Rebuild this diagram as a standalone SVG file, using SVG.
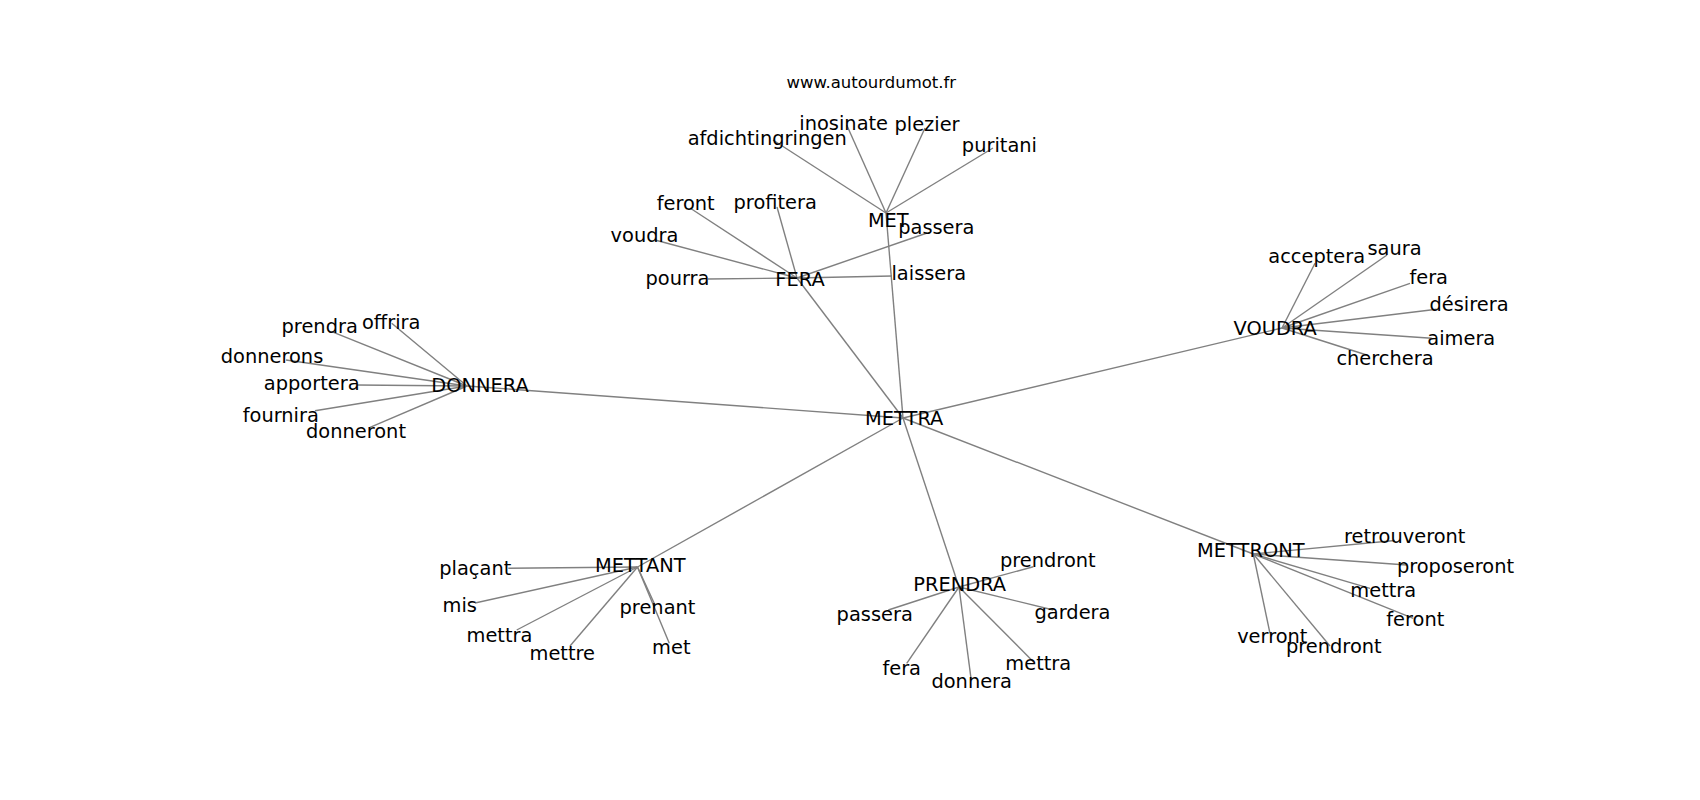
<svg xmlns="http://www.w3.org/2000/svg" width="1700" height="800" viewBox="0 0 1700 800">
<style>
.e{stroke:#808080;stroke-width:1.4;fill:none}
.l{font-family:"DejaVu Sans",sans-serif;font-size:19.4px;fill:#000;text-anchor:middle}
.t{font-family:"DejaVu Sans",sans-serif;font-size:16.5px;fill:#000;text-anchor:middle}
</style>
<rect width="1700" height="800" fill="#fff"/>
<g id="connectors">
<line class="e" x1="903" y1="418" x2="797" y2="278"/>
<line class="e" x1="903" y1="418" x2="886" y2="213"/>
<line class="e" x1="903" y1="418" x2="467" y2="386"/>
<line class="e" x1="903" y1="418" x2="1282" y2="328"/>
<line class="e" x1="903" y1="418" x2="637.5" y2="567"/>
<line class="e" x1="903" y1="418" x2="959" y2="587"/>
<line class="e" x1="903" y1="418" x2="1253.3" y2="554"/>
<line class="e" x1="886" y1="213" x2="773" y2="140"/>
<line class="e" x1="886" y1="213" x2="846.7" y2="125"/>
<line class="e" x1="886" y1="213" x2="925" y2="128"/>
<line class="e" x1="886" y1="213" x2="993" y2="148"/>
<line class="e" x1="797" y1="278" x2="927" y2="233"/>
<line class="e" x1="797" y1="278" x2="892" y2="276"/>
<line class="e" x1="797" y1="278" x2="690" y2="208"/>
<line class="e" x1="797" y1="278" x2="777" y2="207"/>
<line class="e" x1="797" y1="278" x2="655" y2="240"/>
<line class="e" x1="797" y1="278" x2="708" y2="279"/>
<line class="e" x1="467" y1="386" x2="331.7" y2="331.7"/>
<line class="e" x1="467" y1="386" x2="391.7" y2="323.3"/>
<line class="e" x1="467" y1="386" x2="286" y2="360"/>
<line class="e" x1="467" y1="386" x2="357" y2="385"/>
<line class="e" x1="467" y1="386" x2="315" y2="410.7"/>
<line class="e" x1="467" y1="386" x2="370" y2="427.3"/>
<line class="e" x1="1282" y1="328" x2="1315" y2="263.3"/>
<line class="e" x1="1282" y1="328" x2="1387" y2="255"/>
<line class="e" x1="1282" y1="328" x2="1410" y2="283.3"/>
<line class="e" x1="1282" y1="328" x2="1436.7" y2="309.3"/>
<line class="e" x1="1282" y1="328" x2="1431.7" y2="338.3"/>
<line class="e" x1="1282" y1="328" x2="1366.7" y2="355"/>
<line class="e" x1="637.5" y1="567" x2="508.3" y2="568.3"/>
<line class="e" x1="637.5" y1="567" x2="475" y2="603"/>
<line class="e" x1="637.5" y1="567" x2="516.7" y2="630"/>
<line class="e" x1="637.5" y1="567" x2="570" y2="646"/>
<line class="e" x1="637.5" y1="567" x2="655" y2="605"/>
<line class="e" x1="637.5" y1="567" x2="669.3" y2="643.3"/>
<line class="e" x1="959" y1="587" x2="1033.3" y2="566.7"/>
<line class="e" x1="959" y1="587" x2="888.3" y2="610"/>
<line class="e" x1="959" y1="587" x2="1053.3" y2="610"/>
<line class="e" x1="959" y1="587" x2="906.7" y2="663.3"/>
<line class="e" x1="959" y1="587" x2="971" y2="678.3"/>
<line class="e" x1="959" y1="587" x2="1033.3" y2="661.7"/>
<line class="e" x1="1253.3" y1="554" x2="1395" y2="540.5"/>
<line class="e" x1="1253.3" y1="554" x2="1406.7" y2="565"/>
<line class="e" x1="1253.3" y1="554" x2="1370" y2="588.3"/>
<line class="e" x1="1253.3" y1="554" x2="1413.3" y2="618.3"/>
<line class="e" x1="1253.3" y1="554" x2="1270" y2="633.3"/>
<line class="e" x1="1253.3" y1="554" x2="1330" y2="646"/>
</g>
<text class="t" x="871.3" y="88.3">www.autourdumot.fr</text>
<g id="n-mettra"><text class="l" x="904.2" y="425">METTRA</text></g>
<g id="n-met"><text class="l" x="888.3" y="226.7">MET</text></g>
<g id="n-afdichtingringen"><text class="l" x="767.2" y="145">afdichtingringen</text></g>
<g id="n-inosinate"><text class="l" x="843.7" y="130">inosinate</text></g>
<g id="n-plezier"><text class="l" x="927" y="130.7">plezier</text></g>
<g id="n-puritani"><text class="l" x="999.4" y="152">puritani</text></g>
<g id="n-fera"><text class="l" x="800" y="286">FERA</text></g>
<g id="n-fera-passera"><text class="l" x="936.3" y="234.3">passera</text></g>
<g id="n-fera-laissera"><text class="l" x="928.8" y="280">laissera</text></g>
<g id="n-fera-feront"><text class="l" x="685.7" y="210">feront</text></g>
<g id="n-fera-profitera"><text class="l" x="775.2" y="209">profitera</text></g>
<g id="n-fera-voudra"><text class="l" x="644.5" y="241.7">voudra</text></g>
<g id="n-fera-pourra"><text class="l" x="677.5" y="285">pourra</text></g>
<g id="n-donnera"><text class="l" x="480" y="391.7">DONNERA</text></g>
<g id="n-donnera-prendra"><text class="l" x="319.7" y="333.3">prendra</text></g>
<g id="n-donnera-offrira"><text class="l" x="391.2" y="329.3">offrira</text></g>
<g id="n-donnera-donnerons"><text class="l" x="272" y="363.3">donnerons</text></g>
<g id="n-donnera-apportera"><text class="l" x="311.7" y="390">apportera</text></g>
<g id="n-donnera-fournira"><text class="l" x="280.8" y="421.7">fournira</text></g>
<g id="n-donnera-donneront"><text class="l" x="356" y="438.3">donneront</text></g>
<g id="n-voudra"><text class="l" x="1275.2" y="335">VOUDRA</text></g>
<g id="n-voudra-acceptera"><text class="l" x="1316.7" y="262.7">acceptera</text></g>
<g id="n-voudra-saura"><text class="l" x="1394.5" y="255">saura</text></g>
<g id="n-voudra-fera"><text class="l" x="1428.7" y="284.3">fera</text></g>
<g id="n-voudra-desirera"><text class="l" x="1469" y="310.7">désirera</text></g>
<g id="n-voudra-aimera"><text class="l" x="1461.3" y="345">aimera</text></g>
<g id="n-voudra-cherchera"><text class="l" x="1385" y="365">cherchera</text></g>
<g id="n-mettant"><text class="l" x="640.3" y="571.7">METTANT</text></g>
<g id="n-mettant-placant"><text class="l" x="475.3" y="575">plaçant</text></g>
<g id="n-mettant-mis"><text class="l" x="459.7" y="612">mis</text></g>
<g id="n-mettant-mettra"><text class="l" x="499.5" y="641.7">mettra</text></g>
<g id="n-mettant-mettre"><text class="l" x="562.3" y="660">mettre</text></g>
<g id="n-mettant-prenant"><text class="l" x="657.5" y="614">prenant</text></g>
<g id="n-mettant-met"><text class="l" x="671.3" y="654.3">met</text></g>
<g id="n-prendra"><text class="l" x="959.7" y="591">PRENDRA</text></g>
<g id="n-prendra-prendront"><text class="l" x="1047.8" y="567.3">prendront</text></g>
<g id="n-prendra-passera"><text class="l" x="874.7" y="620.7">passera</text></g>
<g id="n-prendra-gardera"><text class="l" x="1072.5" y="619.3">gardera</text></g>
<g id="n-prendra-fera"><text class="l" x="901.7" y="675">fera</text></g>
<g id="n-prendra-donnera"><text class="l" x="971.7" y="688.3">donnera</text></g>
<g id="n-prendra-mettra"><text class="l" x="1038.3" y="670">mettra</text></g>
<g id="n-mettront"><text class="l" x="1250.8" y="557.3">METTRONT</text></g>
<g id="n-mettront-retrouveront"><text class="l" x="1404.7" y="543.3">retrouveront</text></g>
<g id="n-mettront-proposeront"><text class="l" x="1455.5" y="572.7">proposeront</text></g>
<g id="n-mettront-mettra"><text class="l" x="1383.3" y="597.3">mettra</text></g>
<g id="n-mettront-feront"><text class="l" x="1415.3" y="626">feront</text></g>
<g id="n-mettront-verront"><text class="l" x="1272.3" y="642.7">verront</text></g>
<g id="n-mettront-prendront"><text class="l" x="1333.8" y="653.3">prendront</text></g>
</svg>
